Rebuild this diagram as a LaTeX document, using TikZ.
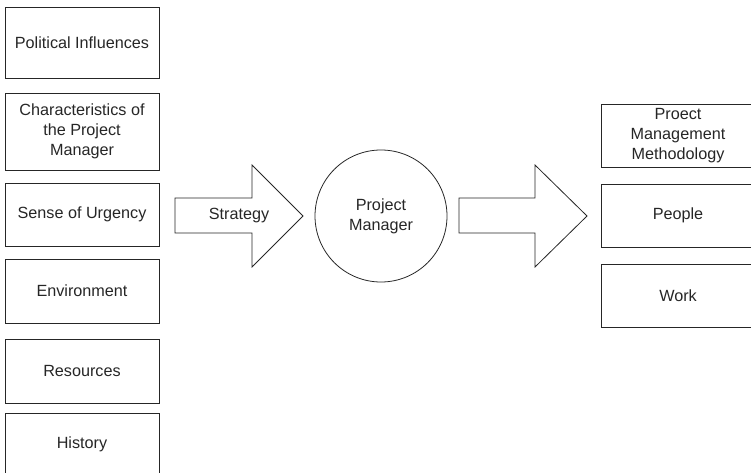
\documentclass[tikz,border=0pt]{standalone}
\usepackage{fontspec}
\setmainfont{Liberation Sans}
\begin{document}
\begin{tikzpicture}[x=1pt,y=-1pt,
  txt/.style={font=\fontsize{16.2}{20}\selectfont, text=black!85, align=center, inner sep=0pt},
  box/.style={txt, draw=black!85, line width=0.8pt, minimum width=154pt},
  bigarrow/.style={draw=black!85, line width=0.8pt, line join=miter}]
\useasboundingbox (0,0) rectangle (751,473);

% factors on the left
\node[box, minimum height=71pt] (pol) at (82,42.5) {Political Influences};
\node[box, minimum height=77pt] (char) at (82,131.5) {Characteristics of\\the Project\\Manager};
\node[box, minimum height=63pt] (urg) at (82,214.5) {Sense of Urgency};
\node[box, minimum height=64pt] (env) at (82,291) {Environment};
\node[box, minimum height=64pt] (res) at (82,371) {Resources};
\node[box, minimum height=62pt] (hist) at (82,444) {History};

% strategy arrow
\draw[bigarrow] (175,198) -- (252,198) -- (252,165) -- (303,216) -- (252,267)
  -- (252,233) -- (175,233) -- cycle;
\node[txt] (strat) at (239,216) {Strategy};

% project manager
\node[txt, draw=black!85, line width=0.8pt, circle, minimum size=132pt]
  (pm) at (381,216) {Project\\Manager};

% outgoing arrow
\draw[bigarrow] (459,198) -- (535,198) -- (535,165) -- (587,216) -- (535,267)
  -- (535,233) -- (459,233) -- cycle;

% results on the right
\node[box, minimum height=63pt] (pmm) at (678,135.5) {Proect\\Management\\Methodology};
\node[box, minimum height=63pt] (ppl) at (678,215.5) {People};
\node[box, minimum height=63pt] (work) at (678,295.5) {Work};
\end{tikzpicture}
\end{document}
